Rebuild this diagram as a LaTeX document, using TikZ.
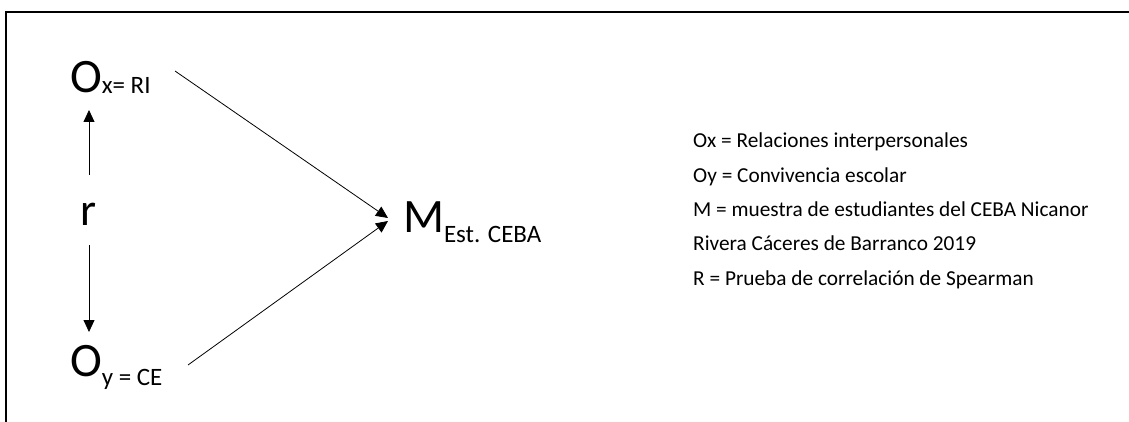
\documentclass[tikz,border=0pt]{standalone}
\usepackage{fontspec}
\setmainfont{Carlito}
\usetikzlibrary{arrows.meta}
\tikzset{
  lbl/.style={inner sep=0pt, outer sep=0pt, anchor=base west},
  conn/.style={line width=0.8pt, -{Triangle[length=12pt,width=11pt]}},
  frame/.style={line width=2pt},
  legend/.style={inner sep=0pt, anchor=base west, font=\fontsize{21.3}{22}\selectfont}
}
\newcommand{\bigO}[1]{\fontsize{#1}{#1}\selectfont}
\begin{document}
\begin{tikzpicture}[x=1pt,y=-1pt]
\useasboundingbox (0,0) rectangle (1129,422);
\fill[white] (0,0) rectangle (1129,422);
% frame (top and left edges)
\coordinate (fl) at (6,422);
\coordinate (fc) at (6,12);
\coordinate (fr) at (1129,12);
\draw[frame] (fl) -- (fc) -- (fr);
% main nodes
\node[lbl] (ox) at (70,93) {\bigO{48}O\raisebox{-1pt}{\bigO{25}x= RI}};
\node[lbl] (oy) at (70,376) {\bigO{48}O\raisebox{-9pt}{\bigO{25}y = CE}};
\node[lbl] (m) at (403,232) {\bigO{48}M\raisebox{-10pt}{\bigO{25}Est. CEBA}};
\node[inner sep=0pt] (r) at (89,214) {\bigO{46}r};
% connector end points
\coordinate (oxs) at (175,71);
\coordinate (oys) at (188,365);
\coordinate (mt1) at (388,218);
\coordinate (mt2) at (388,221);
\coordinate (ru) at (89,175);
\coordinate (rut) at (89,110);
\coordinate (rd) at (89,245);
\coordinate (rdt) at (89,332);
\draw[conn] (oxs) -- (mt1);
\draw[conn] (oys) -- (mt2);
\draw[conn] (ru) -- (rut);
\draw[conn] (rd) -- (rdt);
% legend
\node[legend] (l1) at (693,148) {Ox = Relaciones interpersonales};
\node[legend] (l2) at (693,182.5) {Oy = Convivencia escolar};
\node[legend] (l3) at (693,216.5) {M = muestra de estudiantes del CEBA Nicanor};
\node[legend] (l4) at (693,250.5) {Rivera Cáceres de Barranco 2019};
\node[legend] (l5) at (693,285) {R = Prueba de correlación de Spearman};
\end{tikzpicture}
\end{document}
